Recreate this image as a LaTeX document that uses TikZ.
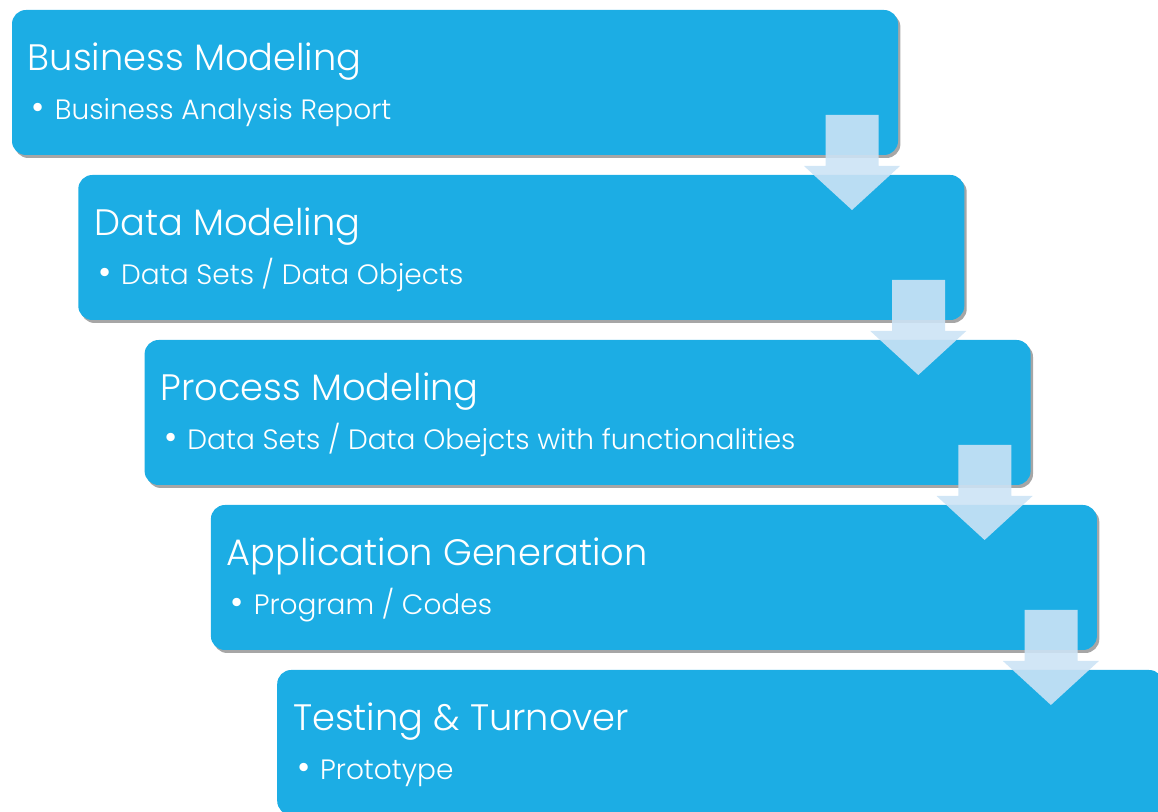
\documentclass[tikz,border=0pt]{standalone}
\usepackage{fontspec}
\IfFontExistsTF{Poppins Light}{\setmainfont{Poppins Light}}{\setmainfont{Poppins}}
\usetikzlibrary{shadows}
\definecolor{stageblue}{RGB}{28,173,228}
\definecolor{arrowblue}{RGB}{204,227,245}
\newcommand{\stagebullet}{{\fontsize{18}{18}\selectfont•}\hspace{0.35em}}
\tikzset{
  stage/.style={fill=stageblue, draw=none, rounded corners=7pt,
    minimum width=443pt, minimum height=72.5pt, inner sep=0pt,
    drop shadow={shadow xshift=1.2pt, shadow yshift=-1.5pt, opacity=0.35, fill=black}},
  stagetitle/.style={anchor=base west, inner sep=0.75pt, text=white, font=\fontsize{18.4}{21}\selectfont},
  stageitem/.style={anchor=base west, inner sep=0.75pt, text=white, font=\fontsize{14}{17}\selectfont},
  flowarrow/.style={fill=arrowblue, fill opacity=0.9, draw=none}
}
\begin{document}
\begin{tikzpicture}[x=0.5pt,y=0.5pt,yscale=-1,xscale=1]
\useasboundingbox (0,0) rectangle (1158,812);

%Rounded Rect
\node [stage] (business) at (455,82.5) {};
%Rounded Rect
\node [stage] (data) at (521.3,247.5) {};
%Rounded Rect
\node [stage] (process) at (587.6,412.5) {};
%Rounded Rect
\node [stage] (application) at (653.9,577.5) {};
%Rounded Rect
\node [stage] (testing) at (720.2,742.5) {};

%Down Arrow
\draw [flowarrow] (825.7,115) -- (878.7,115) -- (878.7,166) -- (900,166) -- (852,210) -- (804,166) -- (825.7,166) -- cycle ;
%Down Arrow
\draw [flowarrow] (892,280) -- (945,280) -- (945,331) -- (966.3,331) -- (918.3,375) -- (870.3,331) -- (892,331) -- cycle ;
%Down Arrow
\draw [flowarrow] (958.3,445) -- (1011.3,445) -- (1011.3,496) -- (1032.6,496) -- (984.6,540) -- (936.6,496) -- (958.3,496) -- cycle ;
%Down Arrow
\draw [flowarrow] (1024.6,610) -- (1077.6,610) -- (1077.6,661) -- (1098.9,661) -- (1050.9,705) -- (1002.9,661) -- (1024.6,661) -- cycle ;

% Text Node
\node [stagetitle] (businesstitle) at (26,71) {Business Modeling};
% Text Node
\node [stageitem] (businessitem) at (30,120) {\stagebullet Business Analysis Report};
% Text Node
\node [stagetitle] (datatitle) at (92.3,236) {Data Modeling};
% Text Node
\node [stageitem] (dataitem) at (96.3,285) {\stagebullet Data Sets / Data Objects};
% Text Node
\node [stagetitle] (processtitle) at (158.6,401) {Process Modeling};
% Text Node
\node [stageitem] (processitem) at (162.6,450) {\stagebullet Data Sets / Data Obejcts with functionalities};
% Text Node
\node [stagetitle] (applicationtitle) at (224.9,566) {Application Generation};
% Text Node
\node [stageitem] (applicationitem) at (228.9,615) {\stagebullet Program / Codes};
% Text Node
\node [stagetitle] (testingtitle) at (291.2,731) {Testing \& Turnover};
% Text Node
\node [stageitem] (testingitem) at (295.2,780) {\stagebullet Prototype};

\end{tikzpicture}
\end{document}
